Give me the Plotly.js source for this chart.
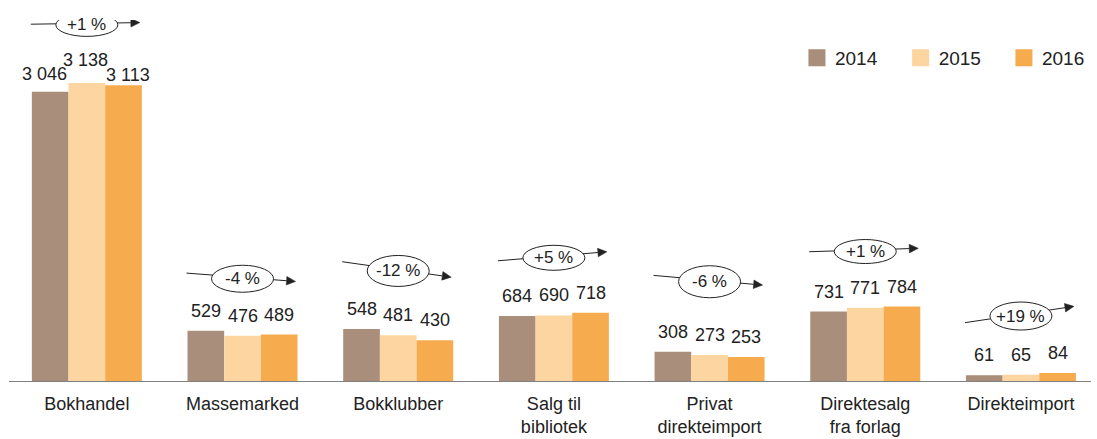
<!DOCTYPE html>
<html>
<head>
<meta charset="utf-8">
<script src="https://cdn.plot.ly/plotly-3.0.1.min.js"></script>
<style>
  html, body { margin: 0; padding: 0; background: #ffffff; }
  #chart { width: 1097px; height: 439px; }
</style>
</head>
<body>
<div id="chart"></div>
<script>
// ---- data ----
var categories = ['Bokhandel', 'Massemarked', 'Bokklubber', 'Salg til<br>bibliotek',
                  'Privat<br>direkteimport', 'Direktesalg<br>fra forlag', 'Direkteimport'];
var seriesNames = ['2014', '2015', '2016'];
var values2014 = [3046, 529, 548, 684, 308, 731, 61];
var values2015 = [3138, 476, 481, 690, 273, 771, 65];
var values2016 = [3113, 489, 430, 718, 253, 784, 84];
var changeLabels = ['+1 %', '-4 %', '-12 %', '+5 %', '-6 %', '+1 %', '+19 %'];

// ---- styling ----
var colors = ['#a98e7c', '#fcd5a0', '#f6ab4f'];
var textColor = '#222222';
var fontFamily = 'Liberation Sans, Arial, Helvetica, sans-serif';
var bargap = 0.2935;
// badge: lift of badge centre above tallest bar (px), tilt of arrow (px, screen-down from tail to tip), ellipse height
var badgeLift = [58, 52, 58, 55, 70, 55, 57];
var badgeTilt = [-1.6, 8.3, 15.4, -9, 9.7, -3.4, -16.3];
var badgeHeight = [23, 27, 31, 25, 32, 24, 28];
// value labels: default lift of label centre above bar top (px), plus overrides
var labelLift = 20;
var labelOverrides = { '0-0': {lift: 17.5, dx: -6}, '0-1': {lift: 23, dx: -1}, '0-2': {lift: 10.5, dx: 4} };

var allValues = [values2014, values2015, values2016];
var idx = categories.map(function (c, i) { return i; });

function fmt(v) {
  return String(v).replace(/\B(?=(\d{3})+(?!\d))/g, ' ');
}

var traces = allValues.map(function (vals, j) {
  return {
    type: 'bar',
    name: seriesNames[j],
    x: idx,
    y: vals,
    marker: { color: colors[j], line: { width: 0 } },
    hoverinfo: 'skip'
  };
});

var annotations = [];
var shapes = [];
var barW = (1 - bargap) / 3;

// value labels
allValues.forEach(function (vals, j) {
  vals.forEach(function (v, i) {
    var o = labelOverrides[i + '-' + j] || {};
    annotations.push({
      x: i + (j - 1) * barW,
      y: v,
      xref: 'x', yref: 'y',
      text: fmt(v),
      showarrow: false,
      xanchor: 'center', yanchor: 'middle',
      yshift: (o.lift !== undefined ? o.lift : labelLift),
      xshift: o.dx || 0,
      font: { family: fontFamily, size: 18, color: textColor }
    });
  });
});

// growth badges
changeLabels.forEach(function (lab, i) {
  var top = Math.max(values2014[i], values2015[i], values2016[i]);
  var mid = badgeLift[i];
  var t = badgeTilt[i];
  var xs = -56, xt = 53;
  var ys = mid + 1.5 + t / 2, yt = mid + 1.5 - t / 2;   // y up-positive
  var dx = xt - xs, dy = yt - ys, L = Math.sqrt(dx * dx + dy * dy);
  var ux = dx / L, uy = dy / L;
  var hl = 9, hw = 4.3;
  var bx = xt - hl * ux, by = yt - hl * uy;
  var nx = -uy, ny = ux;
  var base = { xref: 'x', yref: 'y', xsizemode: 'pixel', ysizemode: 'pixel', xanchor: i, yanchor: top, layer: 'above' };
  shapes.push(Object.assign({}, base, {
    type: 'path',
    path: 'M' + xs + ',' + ys + ' L' + bx.toFixed(2) + ',' + by.toFixed(2),
    line: { color: textColor, width: 1 }
  }));
  shapes.push(Object.assign({}, base, {
    type: 'circle',
    x0: -31, x1: 31, y0: mid - badgeHeight[i] / 2, y1: mid + badgeHeight[i] / 2,
    fillcolor: '#ffffff',
    line: { color: textColor, width: 1 }
  }));
  shapes.push(Object.assign({}, base, {
    type: 'path',
    path: 'M' + xt + ',' + yt.toFixed(2) +
          ' L' + (bx + hw * nx).toFixed(2) + ',' + (by + hw * ny).toFixed(2) +
          ' L' + (bx - hw * nx).toFixed(2) + ',' + (by - hw * ny).toFixed(2) + ' Z',
    fillcolor: textColor,
    line: { color: textColor, width: 0.5 }
  }));
  annotations.push({
    x: i, y: top, xref: 'x', yref: 'y',
    text: lab, showarrow: false,
    xanchor: 'center', yanchor: 'middle',
    yshift: mid,
    font: { family: fontFamily, size: 17, color: textColor }
  });
});

var layout = {
  width: 1097, height: 439,
  margin: { l: 9, r: 6, t: 20, b: 58, autoexpand: false },
  paper_bgcolor: '#ffffff', plot_bgcolor: '#ffffff',
  barmode: 'group',
  bargap: bargap,
  bargroupgap: 0,
  font: { family: fontFamily, color: textColor, size: 18 },
  showlegend: true,
  legend: {
    orientation: 'h',
    x: 0.7116, xanchor: 'left',
    y: 0.895, yanchor: 'middle',
    itemwidth: 46,
    font: { family: fontFamily, size: 19, color: textColor },
    bgcolor: 'rgba(0,0,0,0)',
    traceorder: 'normal'
  },
  xaxis: {
    type: 'linear',
    range: [-0.5, 6.45],
    tickmode: 'array',
    tickvals: idx,
    ticktext: categories,
    ticks: '',
    showgrid: false,
    zeroline: false,
    showline: true,
    linecolor: '#808080',
    linewidth: 1,
    ticklabelstandoff: 6,
    tickfont: { family: fontFamily, size: 18, color: textColor },
    fixedrange: true
  },
  yaxis: {
    range: [0, 3800],
    showgrid: false,
    zeroline: false,
    showline: false,
    showticklabels: false,
    ticks: '',
    fixedrange: true
  },
  annotations: annotations,
  shapes: shapes,
  hovermode: false
};

Plotly.newPlot('chart', traces, layout, { displayModeBar: false, staticPlot: true }).then(function () {
  document.querySelectorAll('.legend .legendpoints path').forEach(function (p) {
    var old = p.getAttribute('transform') || '';
    p.setAttribute('transform', (old + ' translate(10,0) scale(1.42)').trim());
  });
});
</script>
</body>
</html>
